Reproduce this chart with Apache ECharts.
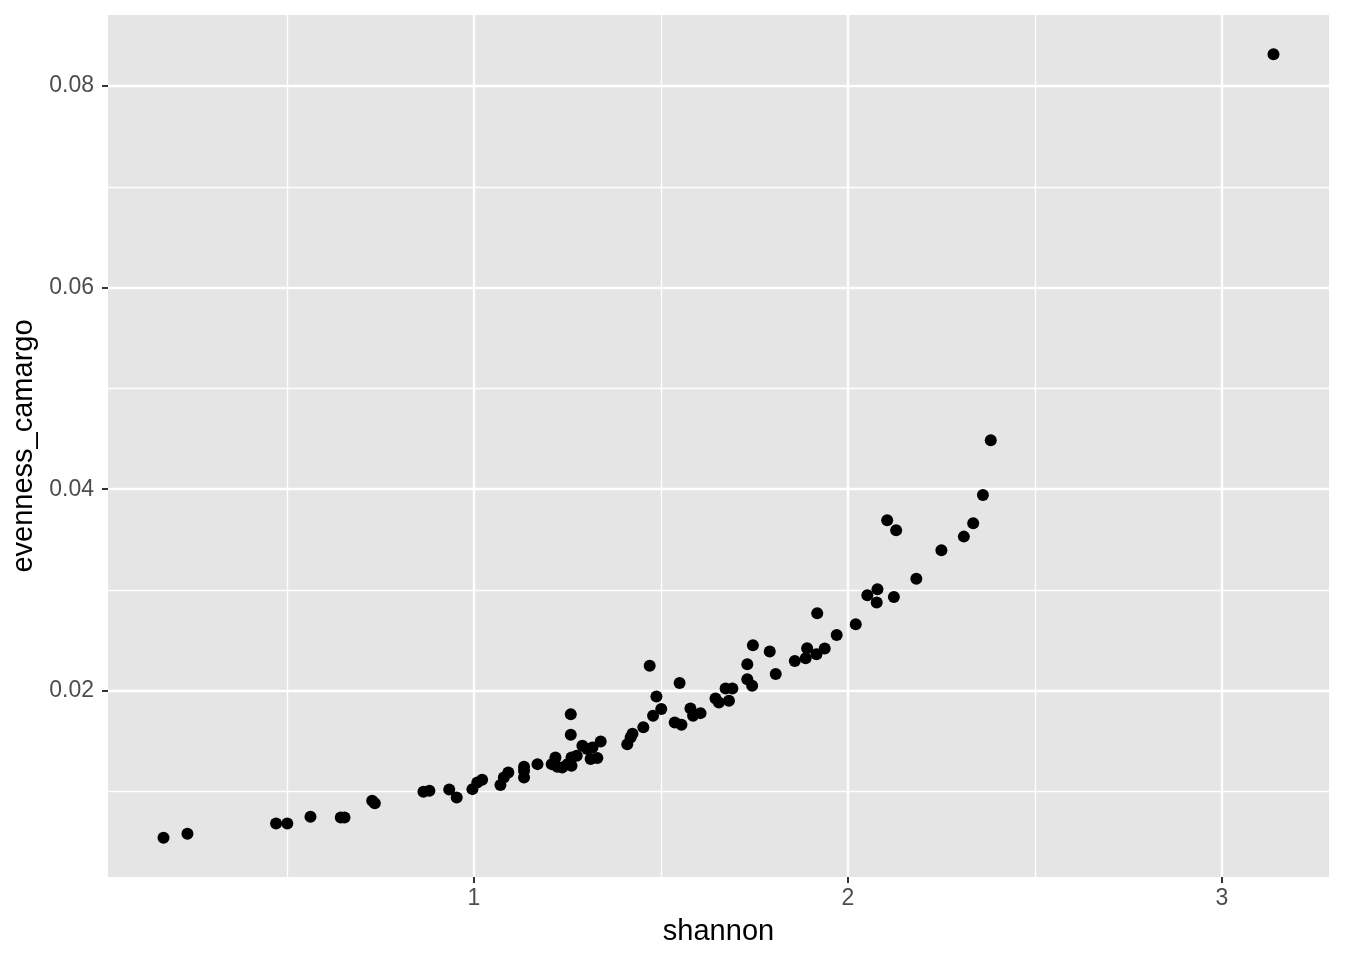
<!DOCTYPE html>
<html>
<head>
<meta charset="utf-8">
<script src="https://cdn.jsdelivr.net/npm/echarts@6/dist/echarts.min.js"></script>
<style>
html,body{margin:0;padding:0;background:#fff;}
#chart{width:1352px;height:980px;}
</style>
</head>
<body>
<div id="chart"></div>
<script>
// ---- data ----
var shannon = [
  0.170, 0.234, 0.471, 0.501, 0.563, 0.644, 0.654, 0.728, 0.735, 0.865,
  0.881, 0.934, 0.954, 0.996, 1.009, 1.022, 1.071, 1.080, 1.092, 1.134,
  1.134, 1.134, 1.170, 1.208, 1.218, 1.223, 1.236, 1.250, 1.261, 1.261,
  1.275, 1.290, 1.303, 1.317, 1.312, 1.330, 1.339, 1.259, 1.259, 1.410,
  1.419, 1.424, 1.453, 1.470, 1.479, 1.488, 1.501, 1.537, 1.550, 1.555,
  1.579, 1.586, 1.606, 1.646, 1.655, 1.673, 1.682, 1.691, 1.731, 1.731,
  1.744, 1.746, 1.791, 1.807, 1.858, 1.887, 1.891, 1.916, 1.918, 1.938,
  1.970, 2.021, 2.052, 2.079, 2.077, 2.123, 2.105, 2.129, 2.183, 2.250,
  2.310, 2.335, 2.361, 2.382, 3.138
];
var evennessCamargo = [
  0.00542, 0.00582, 0.00684, 0.00684, 0.00751, 0.00744, 0.00744, 0.00909, 0.00886, 0.00998,
  0.01008, 0.01021, 0.00942, 0.01025, 0.01091, 0.01118, 0.01065, 0.01140, 0.01190, 0.01140,
  0.01207, 0.01246, 0.01273, 0.01273, 0.01339, 0.01246, 0.01239, 0.01273, 0.01256, 0.01339,
  0.01355, 0.01455, 0.01422, 0.01438, 0.01323, 0.01333, 0.01497, 0.01769, 0.01564, 0.01471,
  0.01537, 0.01574, 0.01640, 0.02248, 0.01752, 0.01943, 0.01819, 0.01686, 0.02079, 0.01663,
  0.01824, 0.01752, 0.01779, 0.01924, 0.01884, 0.02023, 0.01901, 0.02023, 0.02265, 0.02116,
  0.02050, 0.02453, 0.02390, 0.02166, 0.02297, 0.02324, 0.02423, 0.02364, 0.02770, 0.02421,
  0.02555, 0.02661, 0.02949, 0.03008, 0.02876, 0.02932, 0.03693, 0.03593, 0.03111, 0.03395,
  0.03530, 0.03663, 0.03943, 0.04486, 0.08316
];
var xMajorTicks = [1, 2, 3];
var xMinorTicks = [0.5, 1.5, 2.5];
var yMajorTicks = [0.02, 0.04, 0.06, 0.08];
var yMinorTicks = [0.01, 0.03, 0.05, 0.07];
var xTitle = 'shannon';
var yTitle = 'evenness_camargo';

// ---- build ----
function range(arr) {
  var lo = Math.min.apply(null, arr), hi = Math.max.apply(null, arr);
  var pad = (hi - lo) * 0.05;
  return [lo - pad, hi + pad];
}
var xr = range(shannon), yr = range(evennessCamargo);
var points = shannon.map(function (v, i) { return [v, evennessCamargo[i]]; });

var gridLines = [];
xMinorTicks.forEach(function (v) { gridLines.push({ xAxis: v, lineStyle: { width: 1.3 } }); });
yMinorTicks.forEach(function (v) { gridLines.push({ yAxis: v, lineStyle: { width: 1.3 } }); });
xMajorTicks.forEach(function (v) { gridLines.push({ xAxis: v, lineStyle: { width: 2.4 } }); });
yMajorTicks.forEach(function (v) { gridLines.push({ yAxis: v, lineStyle: { width: 2.4 } }); });

var FONT = '"Liberation Sans", Arial, Helvetica, sans-serif';
var chart = echarts.init(document.getElementById('chart'), null, { renderer: 'canvas' });
chart.setOption({
  animation: false,
  backgroundColor: '#ffffff',
  grid: {
    left: 108, top: 15, width: 1221, height: 862,
    show: true, backgroundColor: '#E5E5E5', borderWidth: 0,
    containLabel: false
  },
  xAxis: {
    type: 'value', min: xr[0], max: xr[1],
    axisLine: { show: false },
    splitLine: { show: false },
    axisTick: { show: true, customValues: xMajorTicks, length: 6, lineStyle: { color: '#333333', width: 2 } },
    axisLabel: { customValues: xMajorTicks, color: '#4D4D4D', fontSize: 23, fontFamily: FONT, margin: 10,
      formatter: function (v) { return String(v); } },
    name: xTitle, nameLocation: 'middle', nameGap: 40,
    nameTextStyle: { color: '#000000', fontSize: 29, fontFamily: FONT }
  },
  yAxis: {
    type: 'value', min: yr[0], max: yr[1],
    axisLine: { show: false },
    splitLine: { show: false },
    axisTick: { show: true, customValues: yMajorTicks, length: 6, lineStyle: { color: '#333333', width: 2 } },
    axisLabel: { customValues: yMajorTicks, color: '#4D4D4D', fontSize: 23, fontFamily: FONT, margin: 14,
      formatter: function (v) { return v.toFixed(2); } },
    name: yTitle, nameLocation: 'middle', nameGap: 64, nameRotate: 90,
    nameTextStyle: { color: '#000000', fontSize: 29, fontFamily: FONT }
  },
  series: [
    {
      type: 'scatter', data: [], z: 1, silent: true,
      markLine: {
        silent: true, symbol: ['none', 'none'], animation: false,
        label: { show: false },
        lineStyle: { color: '#FFFFFF', type: 'solid' },
        emphasis: { disabled: true },
        data: gridLines
      }
    },
    {
      type: 'scatter', data: points, z: 5,
      symbol: 'circle', symbolSize: 12,
      itemStyle: { color: '#000000', opacity: 1 }
    }
  ]
});
</script>
</body>
</html>
